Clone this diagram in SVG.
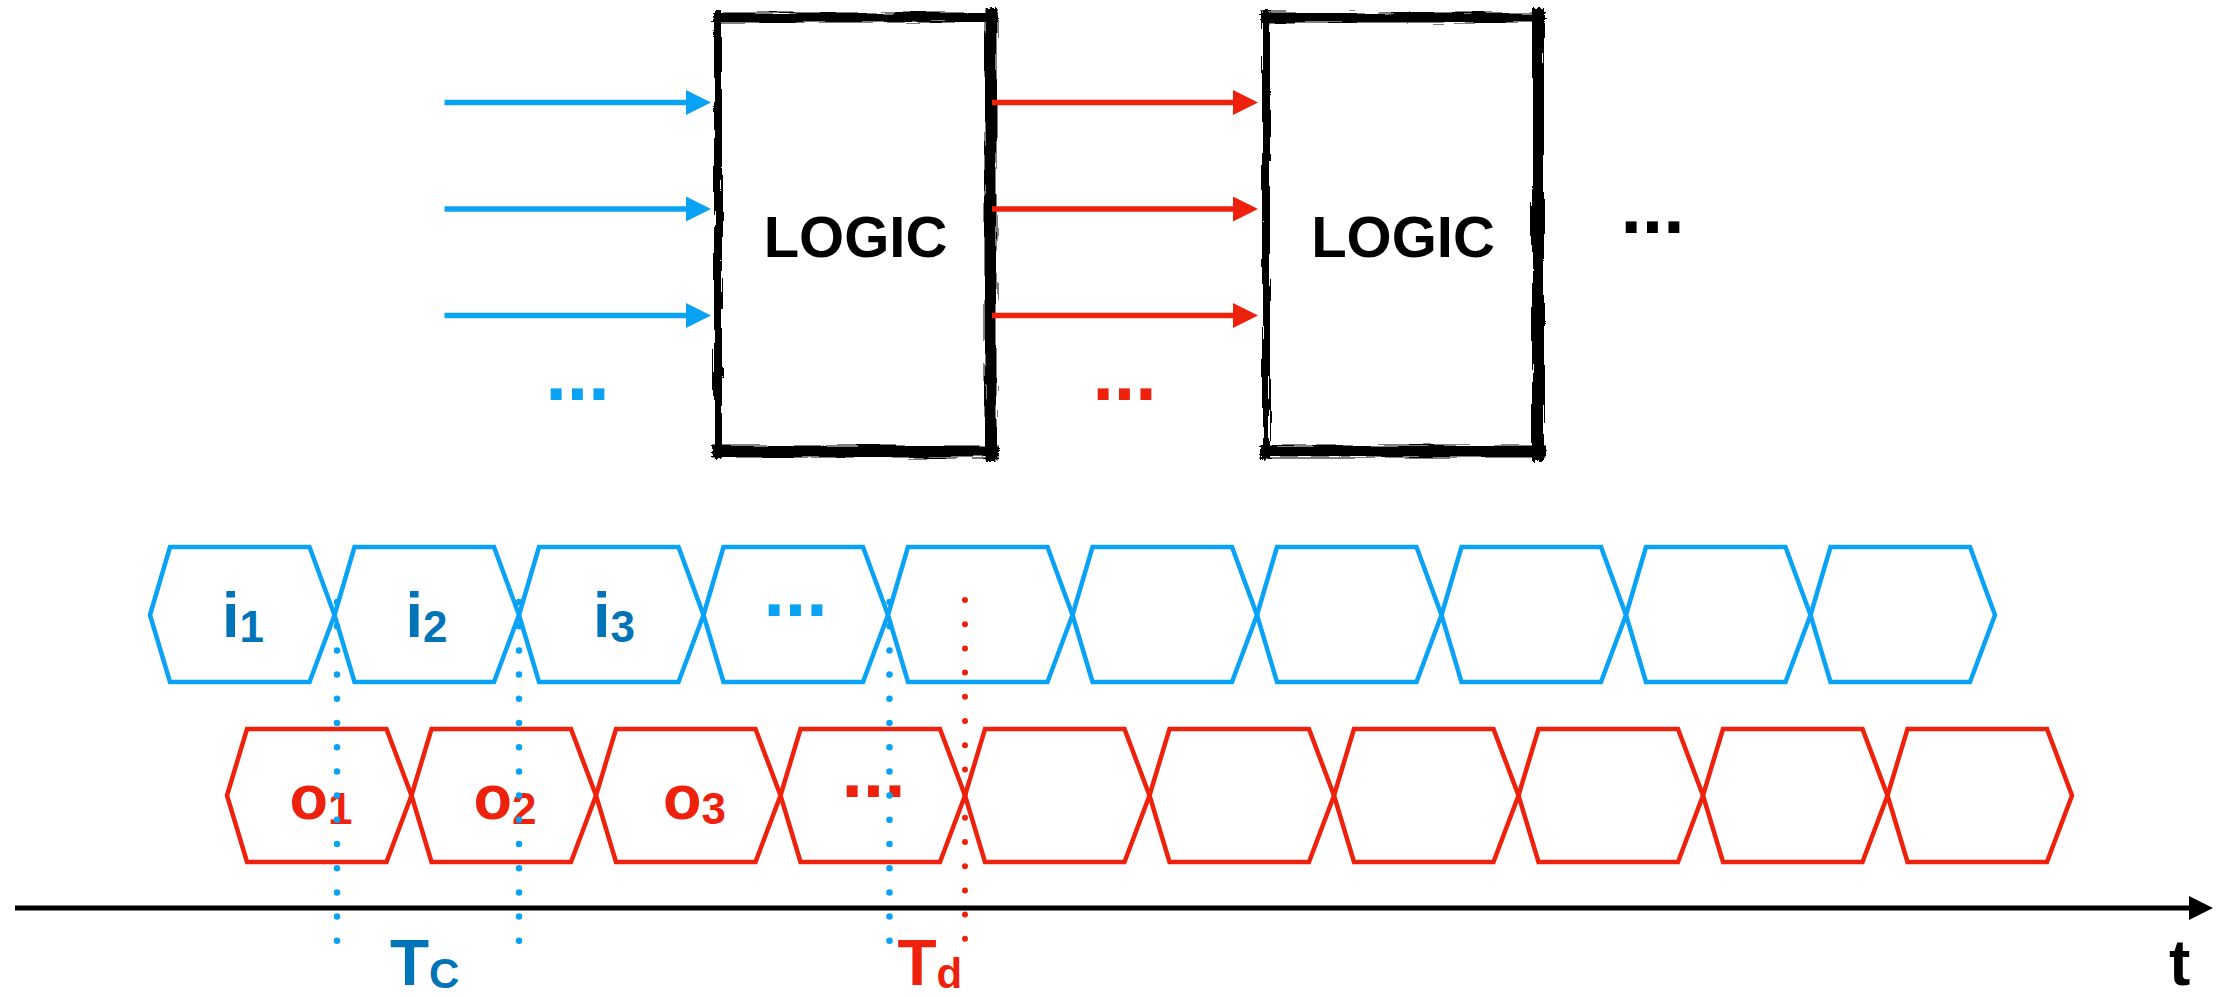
<svg xmlns="http://www.w3.org/2000/svg" width="2222" height="997" viewBox="0 0 2222 997">
<style>
  .t{font-family:"Liberation Sans",Arial,sans-serif;font-weight:bold}
  .logic{font-size:58px;fill:#000;text-anchor:middle}
  .dots{font-size:77px;text-anchor:middle}
  .lbl{font-size:63px}
  .sub{font-size:44px}
  .hb{fill:none;stroke:#0AA2F5;stroke-width:4.5;stroke-linejoin:miter}
  .hr{fill:none;stroke:#EE220C;stroke-width:4.5;stroke-linejoin:miter}
  .edge{stroke:#000;fill:none;stroke-linecap:square}
  .ab{stroke:#0AA2F5;stroke-width:5.5}
  .ar{stroke:#EE220C;stroke-width:5.5}
  .dotb{stroke:#0AA2F5;stroke-width:6.5;stroke-linecap:round;stroke-dasharray:0 24.2}
  .dotr{stroke:#EE220C;stroke-width:6;stroke-linecap:round;stroke-dasharray:0 24.2}
</style>
<defs>
  <filter id="fh" filterUnits="userSpaceOnUse" x="0" y="0" width="2222" height="500">
    <feTurbulence type="fractalNoise" baseFrequency="0.02 0.5" numOctaves="2" seed="4" result="n"/>
    <feDisplacementMap in="SourceGraphic" in2="n" scale="7" xChannelSelector="R" yChannelSelector="G"/>
  </filter>
  <filter id="fv" filterUnits="userSpaceOnUse" x="0" y="0" width="2222" height="500">
    <feTurbulence type="fractalNoise" baseFrequency="0.5 0.02" numOctaves="2" seed="7" result="n"/>
    <feDisplacementMap in="SourceGraphic" in2="n" scale="7" xChannelSelector="R" yChannelSelector="G"/>
  </filter>
  <marker id="mb" markerUnits="userSpaceOnUse" markerWidth="25" markerHeight="25" refX="0" refY="12.5" orient="auto"><path d="M0,0 L25,12.5 L0,25 z" fill="#0AA2F5"/></marker>
  <marker id="mr" markerUnits="userSpaceOnUse" markerWidth="25" markerHeight="25" refX="0" refY="12.5" orient="auto"><path d="M0,0 L25,12.5 L0,25 z" fill="#EE220C"/></marker>
  <marker id="mk" markerUnits="userSpaceOnUse" markerWidth="24" markerHeight="24" refX="0" refY="12" orient="auto"><path d="M0,0 L24,12 L0,24 z" fill="#000"/></marker>
</defs>
<rect width="2222" height="997" fill="#fff"/>

<g id="logic1">
  <g filter="url(#fv)">
    <path class="edge" d="M718,14 V455" stroke-width="8"/>
    <path class="edge" d="M990.5,14 V455" stroke-width="12"/>
  </g>
  <g filter="url(#fh)">
    <path class="edge" d="M718,17.5 H993" stroke-width="10"/>
    <path class="edge" d="M718,451.5 H993" stroke-width="12"/>
  </g>
  <text class="t logic" x="855.5" y="257">LOGIC</text>
</g>

<g id="logic2">
  <g filter="url(#fv)">
    <path class="edge" d="M1266,14 V455" stroke-width="8"/>
    <path class="edge" d="M1538,14 V455" stroke-width="12"/>
  </g>
  <g filter="url(#fh)">
    <path class="edge" d="M1266,17.5 H1540" stroke-width="10"/>
    <path class="edge" d="M1266,451.5 H1540" stroke-width="12"/>
  </g>
  <text class="t logic" x="1403" y="257">LOGIC</text>
</g>

<g id="inputs-more"><text class="t dots" x="577.5" y="400" fill="#0AA2F5">...</text></g>
<g id="mid-more"><text class="t dots" x="1124.5" y="400" fill="#EE220C">...</text></g>
<g id="next-more"><text class="t dots" x="1652.5" y="233" fill="#000">...</text></g>

<g id="input-signals">
  <polygon class="hb" points="150,615 170,547 309.5,547 334.5,615 309.5,682 170,682"/>
  <polygon class="hb" points="334.5,615 354.5,547 494,547 519,615 494,682 354.5,682"/>
  <polygon class="hb" points="519,615 539,547 678.5,547 703.5,615 678.5,682 539,682"/>
  <polygon class="hb" points="703.5,615 723.5,547 863,547 888,615 863,682 723.5,682"/>
  <polygon class="hb" points="888,615 908,547 1047.5,547 1072.5,615 1047.5,682 908,682"/>
  <polygon class="hb" points="1072.5,615 1092.5,547 1232,547 1257,615 1232,682 1092.5,682"/>
  <polygon class="hb" points="1257,615 1277,547 1416.5,547 1441.5,615 1416.5,682 1277,682"/>
  <polygon class="hb" points="1441.5,615 1461.5,547 1601,547 1626,615 1601,682 1461.5,682"/>
  <polygon class="hb" points="1626,615 1646,547 1785.5,547 1810.5,615 1785.5,682 1646,682"/>
  <polygon class="hb" points="1810.5,615 1830.5,547 1970,547 1995,615 1970,682 1830.5,682"/>
  <text class="t lbl" x="222" y="637" fill="#0074B7">i<tspan class="sub" dy="5">1</tspan></text>
  <text class="t lbl" x="405.5" y="637" fill="#0074B7">i<tspan class="sub" dy="5">2</tspan></text>
  <text class="t lbl" x="593" y="637" fill="#0074B7">i<tspan class="sub" dy="5">3</tspan></text>
  <text class="t dots" x="795.5" y="616" fill="#0AA2F5">...</text>
</g>

<g id="output-signals">
  <polygon class="hr" points="227,795.5 247,729 386.5,729 411.5,795.5 386.5,862 247,862"/>
  <polygon class="hr" points="411.5,795.5 431.5,729 571,729 596,795.5 571,862 431.5,862"/>
  <polygon class="hr" points="596,795.5 616,729 755.5,729 780.5,795.5 755.5,862 616,862"/>
  <polygon class="hr" points="780.5,795.5 800.5,729 940,729 965,795.5 940,862 800.5,862"/>
  <polygon class="hr" points="965,795.5 985,729 1124.5,729 1149.5,795.5 1124.5,862 985,862"/>
  <polygon class="hr" points="1149.5,795.5 1169.5,729 1309,729 1334,795.5 1309,862 1169.5,862"/>
  <polygon class="hr" points="1334,795.5 1354,729 1493.5,729 1518.5,795.5 1493.5,862 1354,862"/>
  <polygon class="hr" points="1518.5,795.5 1538.5,729 1678,729 1703,795.5 1678,862 1538.5,862"/>
  <polygon class="hr" points="1703,795.5 1723,729 1862.5,729 1887.5,795.5 1862.5,862 1723,862"/>
  <polygon class="hr" points="1887.5,795.5 1907.5,729 2047,729 2072,795.5 2047,862 1907.5,862"/>
  <text class="t lbl" x="289.5" y="819" fill="#EE220C">o<tspan class="sub" dy="5">1</tspan></text>
  <text class="t lbl" x="473.5" y="819" fill="#EE220C">o<tspan class="sub" dy="5">2</tspan></text>
  <text class="t lbl" x="663" y="819" fill="#EE220C">o<tspan class="sub" dy="5">3</tspan></text>
  <text class="t dots" x="873.5" y="797" fill="#EE220C">...</text>
</g>

<g id="connectors">
  <line class="ab" x1="444.5" y1="102.5" x2="686" y2="102.5" marker-end="url(#mb)"/>
  <line class="ab" x1="444.5" y1="209" x2="686" y2="209" marker-end="url(#mb)"/>
  <line class="ab" x1="444.5" y1="315.5" x2="686" y2="315.5" marker-end="url(#mb)"/>
  <line class="ar" x1="992" y1="102.5" x2="1233" y2="102.5" marker-end="url(#mr)"/>
  <line class="ar" x1="992" y1="209" x2="1233" y2="209" marker-end="url(#mr)"/>
  <line class="ar" x1="992" y1="315.5" x2="1233" y2="315.5" marker-end="url(#mr)"/>
  <line x1="15" y1="908" x2="2189" y2="908" stroke="#000" stroke-width="5" marker-end="url(#mk)"/>
  <line class="dotb" x1="337" y1="602" x2="337" y2="941"/>
  <line class="dotb" x1="519" y1="602" x2="519" y2="941"/>
  <line class="dotb" x1="889.5" y1="602" x2="889.5" y2="941"/>
  <line class="dotr" x1="965" y1="600" x2="965" y2="939"/>
</g>

<g id="labels">
  <text class="t" x="390" y="985" font-size="64" fill="#0074B7">T<tspan font-size="42" dy="3">C</tspan></text>
  <text class="t" x="897.5" y="985" font-size="64" fill="#EE220C">T<tspan font-size="42" dy="3">d</tspan></text>
  <text class="t" x="2169" y="985" font-size="64" fill="#000">t</text>
</g>
</svg>
